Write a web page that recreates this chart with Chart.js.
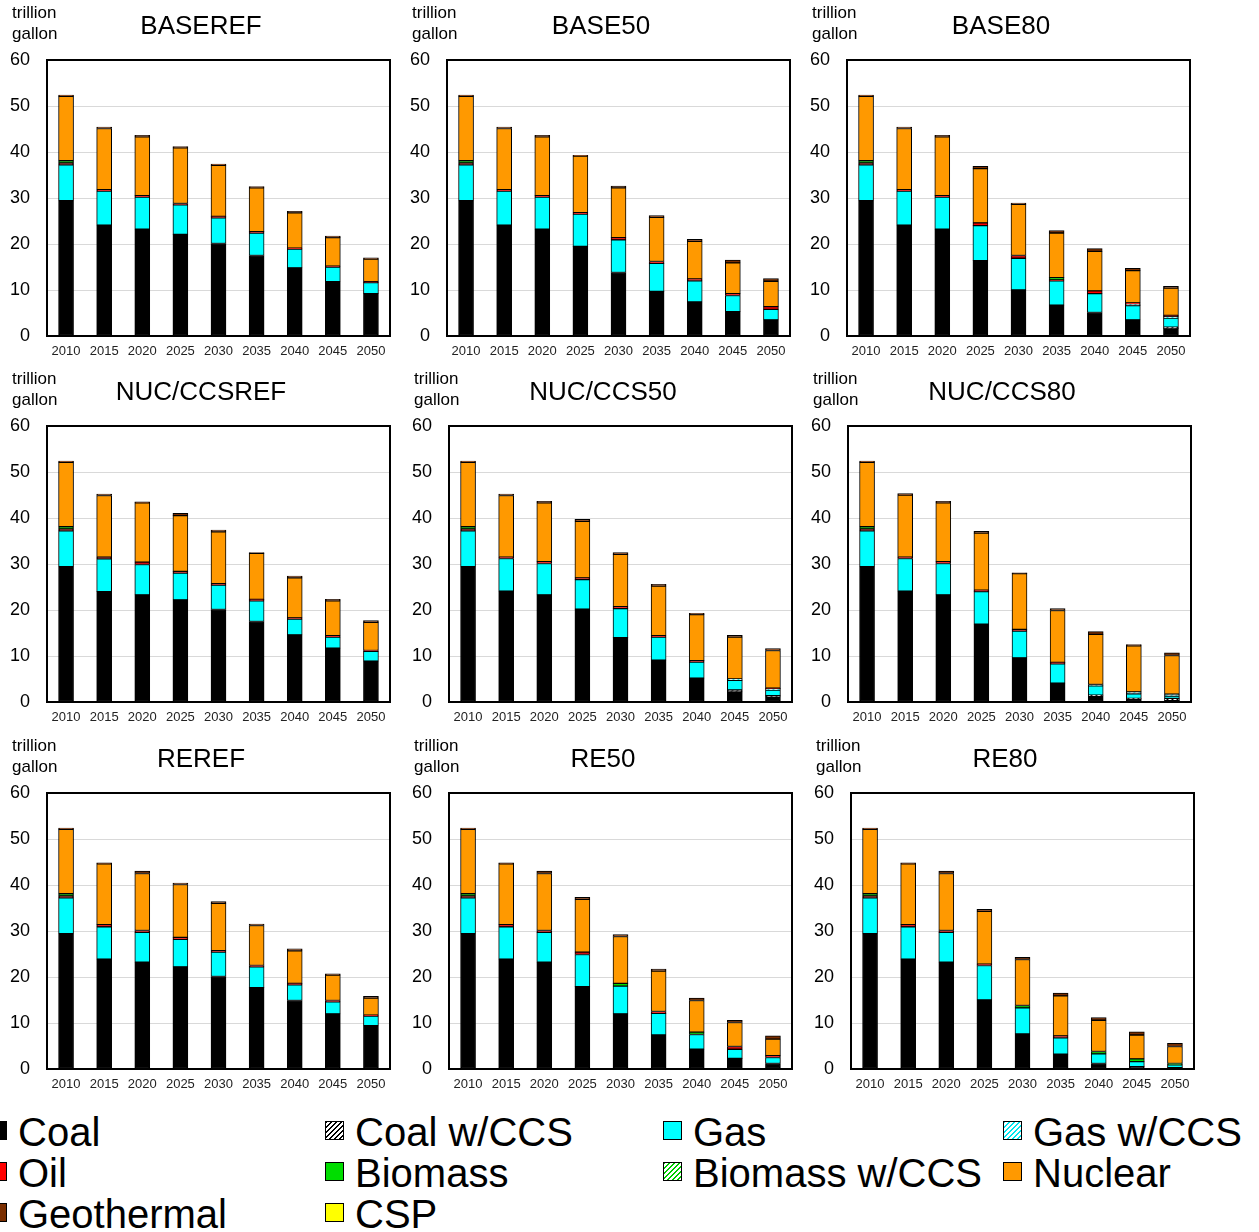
<!DOCTYPE html>
<html>
<head>
<meta charset="utf-8">
<script src="https://cdn.jsdelivr.net/npm/chart.js@4.4.1/dist/chart.umd.min.js"></script>
<style>
  html, body { margin: 0; padding: 0; background: #fff; }
  #page { position: relative; width: 1259px; height: 1232px; overflow: hidden; font-family: "Liberation Sans", Arial, sans-serif; }
  canvas.panel { position: absolute; }
  .lg { position: absolute; height: 40px; line-height: 40px; font-size: 40px; color: #000; white-space: nowrap; }
  .lg i { position: absolute; left: 0; top: 9px; width: 17px; height: 17px; border: 1.5px solid #000; }
  .lg span { position: absolute; left: 30px; top: 0; }
</style>
</head>
<body>
<div id="page"></div>
<script>
// Electricity-sector water withdrawal by source, 9 scenarios (trillion gallon).
const years = ['2010', '2015', '2020', '2025', '2030', '2035', '2040', '2045', '2050'];
const scenarios = ['BASEREF', 'BASE50', 'BASE80', 'NUC/CCSREF', 'NUC/CCS50', 'NUC/CCS80', 'REREF', 'RE50', 'RE80'];
const yTicks = [0, 10, 20, 30, 40, 50, 60];

// one row per scenario (same order as `scenarios`), one value per year
const coal = [
    [29.4, 24.1, 23.2, 22.1, 20.1, 17.5, 14.8, 11.8, 9.2],
    [29.4, 24.1, 23.2, 19.5, 13.8, 9.7, 7.4, 5.3, 3.5],
    [29.4, 24.1, 23.2, 16.4, 10.0, 6.7, 5.1, 3.5, 1.6],
    [29.4, 24.0, 23.3, 22.2, 20.1, 17.5, 14.6, 11.7, 8.9],
    [29.4, 24.1, 23.3, 20.2, 14.0, 9.1, 5.2, 2.2, 1.1],
    [29.4, 24.1, 23.3, 16.9, 9.6, 4.1, 1.3, 0.6, 0.3],
    [29.4, 23.9, 23.2, 22.2, 20.1, 17.7, 14.9, 12.0, 9.4],
    [29.4, 23.9, 23.2, 17.9, 12.0, 7.4, 4.3, 2.3, 1.2],
    [29.4, 23.9, 23.2, 15.0, 7.6, 3.2, 1.2, 0.5, 0.3],
];
const coalCCS = [
    [0, 0, 0, 0, 0, 0, 0, 0, 0],
    [0, 0, 0, 0, 0, 0, 0, 0, 0],
    [0, 0, 0, 0, 0, 0, 0, 0, 0.3],
    [0, 0, 0, 0, 0, 0, 0, 0, 0],
    [0, 0, 0, 0, 0, 0, 0, 0.4, 0.3],
    [0, 0, 0, 0, 0, 0, 0.2, 0.2, 0.5],
    [0, 0, 0, 0, 0, 0, 0, 0, 0],
    [0, 0, 0, 0, 0, 0, 0, 0, 0],
    [0, 0, 0, 0, 0, 0, 0, 0, 0],
];
const gas = [
    [7.8, 7.4, 7.0, 6.4, 5.6, 4.9, 4.1, 3.2, 2.4],
    [7.8, 7.4, 7.0, 7.0, 7.1, 6.1, 4.6, 3.5, 2.3],
    [7.8, 7.4, 7.0, 7.6, 6.9, 5.3, 4.1, 3.1, 2.0],
    [7.8, 7.1, 6.6, 5.8, 5.3, 4.5, 3.4, 2.4, 2.1],
    [7.8, 7.1, 6.8, 6.4, 6.3, 5.0, 3.5, 2.1, 1.2],
    [7.8, 7.1, 6.8, 7.1, 5.8, 4.2, 2.0, 1.0, 0.5],
    [7.8, 7.0, 6.5, 6.0, 5.3, 4.5, 3.4, 2.6, 2.1],
    [7.8, 7.0, 6.5, 7.0, 6.0, 4.7, 3.2, 2.0, 1.3],
    [7.8, 7.0, 6.5, 7.5, 5.7, 3.6, 2.1, 1.1, 0.6],
];
const gasCCS = [
    [0, 0, 0, 0, 0, 0, 0, 0, 0],
    [0, 0, 0, 0, 0, 0, 0, 0, 0],
    [0, 0, 0, 0, 0, 0, 0, 0.3, 0.3],
    [0, 0, 0, 0, 0, 0, 0, 0, 0],
    [0, 0, 0, 0, 0, 0, 0, 0.3, 0.3],
    [0, 0, 0, 0, 0, 0, 0.3, 0.4, 0.4],
    [0, 0, 0, 0, 0, 0, 0, 0, 0],
    [0, 0, 0, 0, 0, 0, 0, 0, 0],
    [0, 0, 0, 0, 0, 0, 0, 0, 0],
];
const oil = [
    [0.4, 0.3, 0.3, 0.3, 0.3, 0.3, 0.2, 0.2, 0.2],
    [0.4, 0.3, 0.3, 0.3, 0.5, 0.4, 0.4, 0.4, 0.6],
    [0.4, 0.3, 0.3, 0.6, 0.6, 0.2, 0.6, 0.3, 0.3],
    [0.4, 0.4, 0.5, 0.4, 0.3, 0.3, 0.3, 0.3, 0.2],
    [0.4, 0.3, 0.4, 0.4, 0.4, 0.3, 0.3, 0, 0.1],
    [0.4, 0.3, 0.4, 0.3, 0.4, 0.3, 0, 0, 0],
    [0.4, 0.5, 0.4, 0.4, 0.3, 0.3, 0.3, 0.3, 0.2],
    [0.4, 0.5, 0.4, 0.5, 0, 0.4, 0, 0.6, 0.4],
    [0.4, 0.5, 0.4, 0.3, 0, 0.4, 0, 0, 0],
];
const biomass = [
    [0.5, 0, 0, 0, 0, 0, 0, 0, 0],
    [0.5, 0, 0, 0, 0, 0, 0, 0, 0],
    [0.5, 0, 0, 0, 0, 0.5, 0, 0, 0],
    [0.5, 0, 0, 0, 0, 0, 0, 0, 0],
    [0.5, 0, 0, 0, 0, 0, 0, 0, 0],
    [0.5, 0, 0, 0, 0, 0, 0, 0, 0],
    [0.5, 0, 0, 0, 0, 0, 0, 0, 0],
    [0.5, 0, 0, 0, 0.6, 0, 0.5, 0, 0],
    [0.5, 0, 0, 0, 0.5, 0, 0.5, 0.6, 0.3],
];
const biomassCCS = [
    [0, 0, 0, 0, 0, 0, 0, 0, 0],
    [0, 0, 0, 0, 0, 0, 0, 0, 0],
    [0, 0, 0, 0, 0, 0, 0, 0, 0],
    [0, 0, 0, 0, 0, 0, 0, 0, 0],
    [0, 0, 0, 0, 0, 0, 0, 0, 0],
    [0, 0, 0, 0, 0, 0, 0, 0, 0],
    [0, 0, 0, 0, 0, 0, 0, 0, 0],
    [0, 0, 0, 0, 0, 0, 0, 0, 0],
    [0, 0, 0, 0, 0, 0, 0, 0, 0],
];
const nuclear = [
    [14.0, 13.3, 12.8, 12.1, 11.1, 9.5, 7.7, 6.2, 4.9],
    [14.0, 13.3, 12.8, 12.3, 10.8, 9.6, 8.2, 6.7, 5.5],
    [14.0, 13.3, 12.8, 11.8, 11.1, 9.7, 8.6, 7.0, 5.9],
    [14.0, 13.4, 12.9, 12.1, 11.3, 10.0, 8.7, 7.6, 6.1],
    [14.0, 13.4, 12.8, 12.3, 11.4, 10.8, 10.0, 9.1, 8.2],
    [14.0, 13.5, 12.8, 12.4, 12.1, 11.3, 10.9, 10.0, 8.4],
    [14.0, 13.2, 12.4, 11.5, 10.3, 8.7, 7.1, 5.5, 3.7],
    [14.0, 13.2, 12.4, 11.5, 10.2, 8.8, 6.9, 5.2, 3.6],
    [14.0, 13.2, 12.4, 11.5, 10.0, 8.7, 6.8, 5.2, 3.7],
];
const geothermal = [
    [0.3, 0.3, 0.3, 0.3, 0.3, 0.3, 0.3, 0.3, 0.3],
    [0.3, 0.3, 0.3, 0.2, 0.4, 0.4, 0.4, 0.6, 0.6],
    [0.3, 0.3, 0.3, 0.5, 0.3, 0.5, 0.6, 0.5, 0.4],
    [0.3, 0.3, 0.2, 0.5, 0.4, 0.2, 0.4, 0.3, 0.4],
    [0.3, 0.3, 0.3, 0.4, 0.4, 0.4, 0.3, 0.4, 0.4],
    [0.3, 0.3, 0.3, 0.4, 0.2, 0.4, 0.6, 0.3, 0.6],
    [0.3, 0.2, 0.5, 0.3, 0.4, 0.3, 0.4, 0.3, 0.4],
    [0.3, 0.2, 0.5, 0.4, 0.4, 0.4, 0.5, 0.5, 0.7],
    [0.3, 0.2, 0.5, 0.4, 0.5, 0.6, 0.6, 0.7, 0.7],
];
const csp = [
    [0, 0, 0, 0, 0, 0, 0, 0, 0],
    [0, 0, 0, 0, 0, 0, 0, 0, 0],
    [0, 0, 0, 0, 0, 0, 0, 0, 0],
    [0, 0, 0, 0, 0, 0, 0, 0, 0],
    [0, 0, 0, 0, 0, 0, 0, 0, 0],
    [0, 0, 0, 0, 0, 0, 0, 0, 0],
    [0, 0, 0, 0, 0, 0, 0, 0, 0],
    [0, 0, 0, 0, 0, 0, 0, 0, 0],
    [0, 0, 0, 0, 0, 0, 0, 0, 0],
];

// stack order bottom -> top, which is also the legend order
const series = [
    { name: 'Coal', values: coal, color: '#000000' },
    { name: 'Coal w/CCS', values: coalCCS, hatch: '#000000' },
    { name: 'Gas', values: gas, color: '#00ffff' },
    { name: 'Gas w/CCS', values: gasCCS, hatch: '#00e5ee' },
    { name: 'Oil', values: oil, color: '#ff0000' },
    { name: 'Biomass', values: biomass, color: '#00dd00' },
    { name: 'Biomass w/CCS', values: biomassCCS, hatch: '#00cc00' },
    { name: 'Nuclear', values: nuclear, color: '#ff9900' },
    { name: 'Geothermal', values: geothermal, color: '#7a2e00' },
    { name: 'CSP', values: csp, color: '#ffff00' },
];

// canvas top-left of each panel, so the plot frames line up with the figure
const panelPos = [[0, 0], [400, 0], [800, 0], [0, 366], [402, 366], [801, 366], [0, 733], [402, 733], [804, 733]];

const FONT = '"Liberation Sans", Arial, sans-serif';
Chart.defaults.font.family = FONT;
Chart.defaults.color = '#111';

function hatchPattern(color) {
    const c = document.createElement('canvas');
    c.width = 5; c.height = 5;
    const g = c.getContext('2d');
    g.fillStyle = '#fff';
    g.fillRect(0, 0, 5, 5);
    g.strokeStyle = color;
    g.lineWidth = 1.4;
    g.beginPath();
    g.moveTo(-1, 6); g.lineTo(6, -1);
    g.moveTo(-3.5, 3.5); g.lineTo(3.5, -3.5);
    g.moveTo(1.5, 8.5); g.lineTo(8.5, 1.5);
    g.stroke();
    return g.createPattern(c, 'repeat');
}

// frame, panel title and unit label
const panelDecor = {
    id: 'panelDecor',
    afterDraw(chart, args, opts) {
        const { ctx, chartArea: a } = chart;
        ctx.save();
        ctx.strokeStyle = '#000';
        ctx.lineWidth = 2;
        ctx.strokeRect(a.left, a.top, a.right - a.left, a.bottom - a.top);
        ctx.fillStyle = '#000';
        ctx.textBaseline = 'middle';
        ctx.textAlign = 'center';
        ctx.font = '26px ' + FONT;
        ctx.fillText(opts.title, 201, 27);
        ctx.textAlign = 'left';
        ctx.font = '17px ' + FONT;
        ctx.fillText('trillion', 12, 13);
        ctx.fillText('gallon', 12, 34);
        ctx.restore();
    }
};

const page = document.getElementById('page');

scenarios.forEach((title, i) => {
    const cv = document.createElement('canvas');
    cv.className = 'panel';
    cv.width = 400; cv.height = 364;
    cv.style.left = panelPos[i][0] + 'px';
    cv.style.top = panelPos[i][1] + 'px';
    page.appendChild(cv);

    new Chart(cv.getContext('2d'), {
        type: 'bar',
        data: {
            labels: years,
            datasets: series.map(s => ({
                label: s.name,
                data: s.values[i],
                backgroundColor: s.hatch ? hatchPattern(s.hatch) : s.color,
                borderColor: '#000',
                borderWidth: 1,
                borderSkipped: false,
                barThickness: 15,
            }))
        },
        plugins: [panelDecor],
        options: {
            responsive: false,
            animation: false,
            layout: { padding: { top: 60, right: 10, left: 0, bottom: 0 } },
            plugins: {
                legend: { display: false },
                tooltip: { enabled: false },
                panelDecor: { title },
            },
            scales: {
                x: {
                    stacked: true,
                    grid: { display: false, drawTicks: false },
                    border: { display: false },
                    ticks: { font: { size: 13 }, color: '#222', padding: 8, maxRotation: 0, autoSkip: false },
                    afterFit: s => { s.height = 28; },
                },
                y: {
                    stacked: true,
                    min: yTicks[0],
                    max: yTicks[yTicks.length - 1],
                    afterBuildTicks: s => { s.ticks = yTicks.map(v => ({ value: v })); },
                    grid: { color: '#d9d9d9', lineWidth: 1, drawTicks: false },
                    border: { display: false },
                    ticks: { font: { size: 18 }, color: '#000', padding: 17 },
                    afterFit: s => { s.width = 47; },
                }
            }
        }
    });
});

// shared legend under the grid, 4 columns, row-major
const legendCols = [-12, 325, 663, 1003];
const legendRows = [1112, 1153, 1194];
series.forEach((s, k) => {
    const d = document.createElement('div');
    d.className = 'lg';
    d.style.left = legendCols[k % 4] + 'px';
    d.style.top = legendRows[Math.floor(k / 4)] + 'px';
    const m = document.createElement('i');
    if (s.hatch) {
        m.style.background = `repeating-linear-gradient(-45deg, #fff 0 2px, ${s.hatch} 2px 3.5px)`;
    } else {
        m.style.background = s.color;
    }
    const t = document.createElement('span');
    t.textContent = s.name;
    d.appendChild(m);
    d.appendChild(t);
    page.appendChild(d);
});
</script>
</body>
</html>
